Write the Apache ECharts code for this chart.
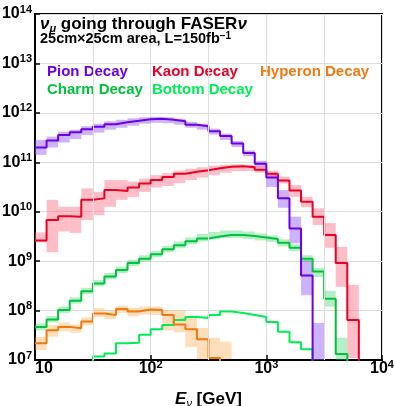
<!DOCTYPE html>
<html>
<head>
<meta charset="utf-8">
<script src="https://cdn.jsdelivr.net/npm/echarts@6/dist/echarts.min.js"></script>
<style>
html,body{margin:0;padding:0;background:#fff}
#chart{width:394px;height:406px}
</style>
</head>
<body>
<div id="chart"></div>
<script>
// bins are 10 per decade from 10 GeV; values are log10 of the number of nu_mu per bin
var binEdges = [];
for (var k = 0; k <= 30; k++) binEdges.push(Math.pow(10, 1 + k / 10));

var yTicks = [1e7, 1e8, 1e9, 1e10, 1e11, 1e12, 1e13, 1e14];
var xTicks = [10, 100, 1000, 10000];

// pion decay, from bin 0
var pion   = [11.30, 11.44, 11.55, 11.61, 11.67, 11.72, 11.77, 11.81, 11.84, 11.87, 11.88, 11.86, 11.83, 11.76, 11.73, 11.63, 11.53, 11.38, 11.19, 10.97, 10.69, 10.27, 9.66, 8.71];
var pionHi = [11.45, 11.52, 11.62, 11.66, 11.73, 11.78, 11.83, 11.86, 11.89, 11.91, 11.92, 11.91, 11.88, 11.82, 11.78, 11.68, 11.58, 11.43, 11.24, 11.03, 10.78, 10.44, 9.90, 9.02, 7.75];
var pionLo = [11.15, 11.30, 11.40, 11.47, 11.55, 11.60, 11.66, 11.70, 11.74, 11.78, 11.80, 11.79, 11.76, 11.70, 11.66, 11.56, 11.45, 11.31, 11.12, 10.89, 10.50, 10.08, 9.36, 8.31, 7.00];

// kaon decay, from bin 0
var kaon   = [9.42, 9.83, 9.91, 9.90, 10.24, 10.27, 10.44, 10.42, 10.49, 10.57, 10.64, 10.70, 10.77, 10.81, 10.84, 10.88, 10.91, 10.92, 10.90, 10.85, 10.77, 10.63, 10.43, 10.20, 9.90, 9.53, 8.96, 7.81];
var kaonHi = [9.58, 10.24, 10.10, 10.10, 10.47, 10.40, 10.64, 10.64, 10.61, 10.67, 10.74, 10.78, 10.83, 10.87, 10.90, 10.93, 10.95, 10.96, 10.95, 10.92, 10.83, 10.71, 10.54, 10.30, 10.07, 9.77, 9.29, 8.52];
var kaonLo = [9.38, 9.18, 9.60, 9.57, 9.83, 9.93, 10.10, 10.24, 10.30, 10.40, 10.49, 10.52, 10.58, 10.64, 10.69, 10.74, 10.79, 10.82, 10.82, 10.79, 10.70, 10.57, 10.30, 10.09, 9.73, 9.27, 8.48, 7.04];

// hyperon decay, from bin 0
var hyperon   = [7.34, 7.60, 7.67, 7.64, 7.78, 7.94, 7.91, 8.03, 7.98, 8.02, 8.01, 7.91, 7.72, 7.62, 7.42, 7.04];
var hyperonHi = [7.47, 7.71, 7.76, 7.72, 7.86, 8.05, 8.00, 8.10, 8.06, 8.08, 8.08, 8.01, 8.00, 7.85, 7.65, 7.45, 7.37];
var hyperonLo = [7.20, 7.47, 7.58, 7.55, 7.70, 7.87, 7.83, 7.95, 7.88, 7.92, 7.91, 7.60, 7.56, 7.26, 7.02, 7.02, 7.02];

// charm decay, from bin 0
var charm   = [7.67, 7.82, 8.01, 8.20, 8.39, 8.55, 8.69, 8.82, 8.96, 9.05, 9.14, 9.24, 9.32, 9.40, 9.46, 9.50, 9.53, 9.53, 9.51, 9.48, 9.45, 9.37, 9.27, 9.05, 8.79, 8.24, 7.12];
var charmHi = [7.74, 7.89, 8.08, 8.27, 8.46, 8.62, 8.76, 8.89, 9.03, 9.12, 9.21, 9.31, 9.40, 9.48, 9.55, 9.59, 9.62, 9.62, 9.60, 9.56, 9.52, 9.44, 9.34, 9.12, 8.86, 8.40, 7.45];
var charmLo = [7.60, 7.76, 7.95, 8.14, 8.33, 8.49, 8.63, 8.76, 8.90, 8.99, 9.08, 9.18, 9.26, 9.34, 9.40, 9.44, 9.47, 9.47, 9.45, 9.42, 9.39, 9.30, 9.20, 8.98, 8.68, 8.08, 7.00];

// bottom decay, from bin 5
var bottomStart = 5;
var bottom = [7.07, 7.13, 7.34, 7.35, 7.51, 7.62, 7.71, 7.81, 7.87, 7.85, 7.91, 7.98, 7.95, 7.91, 7.87, 7.77, 7.57, 7.36, 7.22];

var halfDecades = [Math.pow(10, 1.5), Math.pow(10, 2.5), Math.pow(10, 3.5)];

var LOW = 1e5; // below the axis, the step falls off the plot

function stepData(start, vals) {
    var d = [];
    if (start > 0) d.push([binEdges[start - 1], LOW]);
    for (var i = 0; i < vals.length; i++) d.push([binEdges[start + i], Math.pow(10, vals[i])]);
    d.push([binEdges[start + vals.length], LOW]);
    return d;
}
function bandData(start, lo, hi) {
    var d = [];
    for (var i = 0; i < lo.length; i++) {
        d.push([binEdges[start + i], binEdges[start + i + 1], Math.pow(10, lo[i]), Math.pow(10, hi[i])]);
    }
    return d;
}
function bandSeries(name, data, color) {
    return {
        name: name, type: 'custom', z: 2, clip: true, silent: true,
        encode: {x: [0, 1], y: [2, 3]},
        data: data,
        renderItem: function (params, api) {
            var p0 = api.coord([api.value(0), api.value(3)]);
            var p1 = api.coord([api.value(1), api.value(2)]);
            return {
                type: 'rect',
                shape: {x: p0[0], y: p0[1], width: p1[0] - p0[0], height: p1[1] - p0[1]},
                style: {fill: color}
            };
        }
    };
}
function lineSeries(name, data, color) {
    return {
        name: name, type: 'line', step: 'end', z: 3, showSymbol: false, silent: true,
        data: data, clip: true,
        lineStyle: {color: color, width: 2}
    };
}

var C = {
    pion: '#6c00e8', kaon: '#ee0022', hyperon: '#f07a10', charm: '#00c23c', bottom: '#00ee55'
};

var supRich = {
    b: {fontSize: 16, fontWeight: 'bold', color: '#000', fontFamily: 'Liberation Sans', lineHeight: 20, verticalAlign: 'middle'},
    s: {fontSize: 11, fontWeight: 'bold', color: '#000', fontFamily: 'Liberation Sans', lineHeight: 10, verticalAlign: 'top'}
};
function powLabel(v) {
    var e = Math.round(Math.log10(v));
    if (e === 1) return '{b|10}';
    return '{b|10}{s|' + e + '}';
}

var chart = echarts.init(document.getElementById('chart'));
chart.setOption({
    animation: false,
    backgroundColor: '#fff',
    title: [
        {
            left: 40, top: 14, padding: 0,
            text: '{i|ν}{sub|μ}{t| going through FASER}{i|ν}',
            textStyle: {
                rich: {
                    i: {fontSize: 17, fontStyle: 'italic', fontFamily: 'Liberation Sans', color: '#000', lineHeight: 20, verticalAlign: 'middle'},
                    sub: {fontSize: 11, fontStyle: 'italic', fontFamily: 'Liberation Sans', color: '#000', lineHeight: 10, verticalAlign: 'bottom'},
                    t: {fontSize: 17, fontWeight: 'bold', fontFamily: 'Liberation Sans', color: '#000', lineHeight: 20, verticalAlign: 'middle'}
                }
            }
        },
        {
            left: 40, top: 31, padding: 0,
            text: '{t|25cm×25cm area, L=150fb}{s|−1}',
            textStyle: {
                rich: {
                    t: {fontSize: 14.5, fontWeight: 'bold', fontFamily: 'Liberation Sans', color: '#000', lineHeight: 16, verticalAlign: 'middle'},
                    s: {fontSize: 10, fontWeight: 'bold', fontFamily: 'Liberation Sans', color: '#000', lineHeight: 8, verticalAlign: 'top'}
                }
            }
        }
    ],
    graphic: [
        {type: 'text', left: 47, top: 64, style: {text: 'Pion Decay', fill: C.pion, font: 'bold 15px "Liberation Sans"'}},
        {type: 'text', left: 152, top: 64, style: {text: 'Kaon Decay', fill: C.kaon, font: 'bold 15px "Liberation Sans"'}},
        {type: 'text', left: 260, top: 64, style: {text: 'Hyperon Decay', fill: C.hyperon, font: 'bold 15px "Liberation Sans"'}},
        {type: 'text', left: 47, top: 82, style: {text: 'Charm Decay', fill: C.charm, font: 'bold 15px "Liberation Sans"'}},
        {type: 'text', left: 152, top: 82, style: {text: 'Bottom Decay', fill: C.bottom, font: 'bold 15px "Liberation Sans"'}}
    ],
    grid: {left: 35, top: 14, right: 12, bottom: 46, show: true, borderColor: '#000', borderWidth: 2,
        containLabel: false, outerBoundsMode: 'none'},
    xAxis: {
        type: 'log', logBase: 10, min: 10, max: 10000,
        axisLine: {lineStyle: {color: '#000', width: 2}},
        axisTick: {inside: true, length: 5, lineStyle: {color: '#000', width: 1.5}},
        splitLine: {show: true, lineStyle: {color: '#dddddd', width: 1}},
        axisLabel: {margin: -1, formatter: powLabel, rich: supRich, alignMinLabel: 'left'},
        name: '{e|E}{n|ν}{t| [GeV]}',
        nameLocation: 'middle', nameGap: 29,
        nameTextStyle: {
            rich: {
                e: {fontSize: 17, fontWeight: 'bold', fontStyle: 'italic', fontFamily: 'Liberation Sans', color: '#000', lineHeight: 20, verticalAlign: 'middle'},
                n: {fontSize: 11, fontStyle: 'italic', fontFamily: 'Liberation Sans', color: '#000', lineHeight: 10, verticalAlign: 'bottom'},
                t: {fontSize: 17, fontWeight: 'bold', fontFamily: 'Liberation Sans', color: '#000', lineHeight: 20, verticalAlign: 'middle'}
            }
        }
    },
    yAxis: {
        type: 'log', logBase: 10, min: yTicks[0], max: yTicks[yTicks.length - 1], splitNumber: 7,
        axisLine: {lineStyle: {color: '#000', width: 2}},
        axisTick: {inside: true, length: 5, lineStyle: {color: '#000', width: 1.5}},
        splitLine: {show: true, lineStyle: {color: '#dddddd', width: 1}},
        axisLabel: {margin: 3, formatter: powLabel, rich: supRich}
    },
    series: [
        {
            type: 'line', data: [], z: 1, silent: true,
            markLine: {
                silent: true, symbol: 'none', label: {show: false},
                lineStyle: {color: '#dddddd', width: 1, type: 'solid'},
                data: halfDecades.map(function (v) { return {xAxis: v}; })
            }
        },
        bandSeries('pionBand', bandData(0, pionLo, pionHi), 'rgba(145,85,255,0.45)'),
        bandSeries('kaonBand', bandData(0, kaonLo, kaonHi), 'rgba(255,110,130,0.45)'),
        bandSeries('hyperonBand', bandData(0, hyperonLo, hyperonHi), 'rgba(255,160,60,0.35)'),
        bandSeries('charmBand', bandData(0, charmLo, charmHi), 'rgba(40,210,90,0.35)'),
        lineSeries('Bottom Decay', stepData(bottomStart, bottom), C.bottom),
        lineSeries('Charm Decay', stepData(0, charm), C.charm),
        lineSeries('Hyperon Decay', stepData(0, hyperon), C.hyperon),
        lineSeries('Kaon Decay', stepData(0, kaon), C.kaon),
        lineSeries('Pion Decay', stepData(0, pion), C.pion)
    ]
});
</script>
</body>
</html>
